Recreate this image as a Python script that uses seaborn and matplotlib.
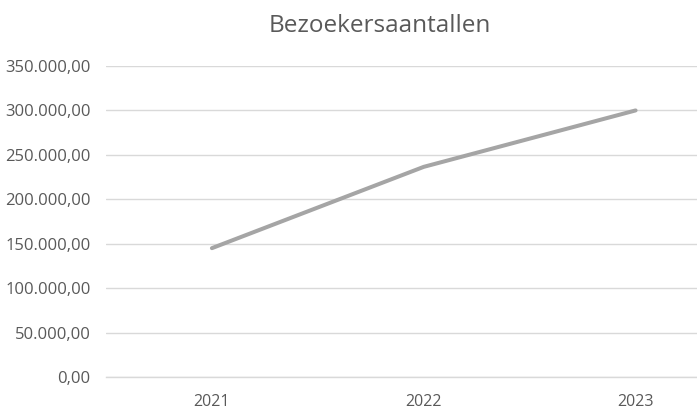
import matplotlib
matplotlib.use("Agg")
import matplotlib.pyplot as plt
import pandas as pd
import seaborn as sns
from matplotlib.ticker import FuncFormatter, MultipleLocator

years = ["2021", "2022", "2023"]
visitors = [145000, 236500, 300000]
title = "Bezoekersaantallen"

TEXT = "#595959"
GRID = "#D9D9D9"
LINE = "#A5A5A5"


def nl_fmt(v, _pos=None):
    s = f"{v:,.2f}"
    return s.replace(",", "#").replace(".", ",").replace("#", ".")


sns.set_theme(style="white")
plt.rcParams["font.family"] = ["Open Sans", "DejaVu Sans"]

df = pd.DataFrame({"jaar": years, "bezoekers": visitors})

fig = plt.figure(figsize=(6.97, 4.19), dpi=100)
ax = fig.add_axes([106 / 697, 42 / 419, 1 - 106 / 697, 311 / 419])

sns.lineplot(data=df, x="jaar", y="bezoekers", ax=ax, color=LINE,
             linewidth=2.9, solid_capstyle="round", sort=False)

ax.set_ylim(0, 350000)
ax.set_xlim(-0.5, 2.29)
ax.yaxis.set_major_locator(MultipleLocator(50000))
ax.yaxis.set_major_formatter(FuncFormatter(nl_fmt))
ax.grid(axis="y", color=GRID, linewidth=1)
ax.set_axisbelow(True)
for side in ["left", "right", "top"]:
    ax.spines[side].set_visible(False)
ax.spines["bottom"].set_color(GRID)
ax.spines["bottom"].set_linewidth(1)
ax.tick_params(axis="both", length=0, colors=TEXT)
ax.tick_params(axis="y", pad=11, labelsize=12)
ax.tick_params(axis="x", pad=12, labelsize=11.5)
ax.set_xlabel("")
ax.set_ylabel("")

fig.text(380 / 697, 1 - 26 / 419, title, ha="center", va="center",
         fontsize=17.5, color=TEXT)

fig.savefig("out.png", dpi=100)
